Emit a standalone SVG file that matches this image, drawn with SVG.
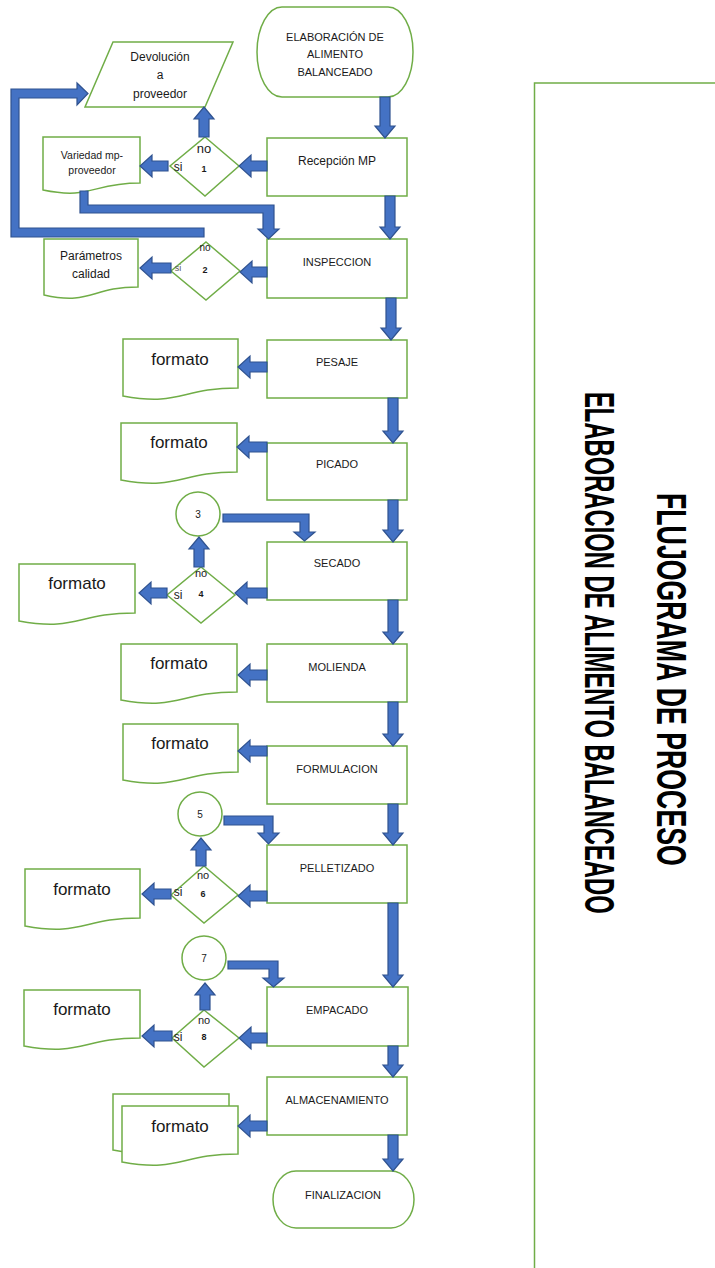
<svg xmlns="http://www.w3.org/2000/svg" width="715" height="1268" viewBox="0 0 715 1268">
<style>
.g{fill:#fff;stroke:#70AD47;stroke-width:1.5}
.ba{fill:#4472C4;stroke:#2F528F;stroke-width:1.2;stroke-linejoin:miter}
text{font-family:"Liberation Sans",Arial,sans-serif;fill:#1a1a1a;text-anchor:middle}
.t11{font-size:11px}
.t12{font-size:12px}
.f{font-size:17px}
.num{font-size:9px;font-weight:bold}
.big{font-size:43px;font-weight:bold;text-anchor:start;fill:#000}
</style>
<rect width="715" height="1268" fill="#fff"/>
<g id="frame"><path d="M534.5,1268 V83 H715" fill="none" stroke="#70AD47" stroke-width="1.5"/></g>
<g id="title1"><text class="big" transform="translate(657,493) rotate(90) scale(0.621,1)">FLUJOGRAMA DE PROCESO</text></g>
<g id="title2"><text class="big" transform="translate(585,392) rotate(90) scale(0.553,1)">ELABORACION DE ALIMENTO BALANCEADO</text></g>

<g id="start"><rect class="g" x="257" y="7" width="156" height="90" rx="25" ry="45"/>
<text class="t11" x="335" y="41">ELABORACIÓN DE</text><text class="t11" x="335" y="58">ALIMENTO</text><text class="t11" x="335" y="76">BALANCEADO</text></g>
<g id="devolucion"><polygon class="g" points="113,42 233,42 205,107 85,107"/>
<text class="t12" x="160" y="61">Devolución</text><text class="t12" x="160" y="79">a</text><text class="t12" x="160" y="98">proveedor</text></g>
<g id="recepcion"><rect class="g" x="267" y="138" width="140" height="58"/><text class="t12" x="337" y="165">Recepción MP</text></g>
<g id="d1"><polygon class="g" points="205,137 239,166 205,196 170,166"/>
<text x="204" y="153" style="font-size:13px">no</text><text class="t12" x="178" y="171">si</text><text class="num" x="204" y="172">1</text></g>
<g id="variedad"><path class="g" d="M43,137 H140 V183 C91.5,183 91.5,200 43,190 Z"/>
<text x="92" y="159" style="font-size:10.5px">Variedad mp-</text><text x="92" y="174" style="font-size:10.5px">proveedor</text></g>
<g id="inspeccion"><rect class="g" x="267" y="239" width="140" height="59"/><text class="t11" x="337" y="266">INSPECCION</text></g>
<g id="d2"><polygon class="g" points="206,242 240,271 206,300 171,271"/>
<text x="205" y="251" style="font-size:10px">no</text><text x="178" y="271" style="font-size:9px;fill:#595959">si</text><text class="num" x="205" y="273">2</text></g>
<g id="parametros"><path class="g" d="M44,239 H138 V287 C91,287 91,305.5 44,295 Z"/>
<text class="t12" x="91" y="260">Parámetros</text><text class="t12" x="91" y="278">calidad</text></g>

<g id="pesaje"><rect class="g" x="267" y="340" width="140" height="58"/><text class="t11" x="337" y="366">PESAJE</text></g>
<g id="formato1"><path class="g" d="M123,339 H238 V388 C180.5,388 180.5,406.5 123,396 Z"/><text class="f" x="180" y="365">formato</text></g>
<g id="picado"><rect class="g" x="267" y="443" width="140" height="57"/><text class="t11" x="337" y="468">PICADO</text></g>
<g id="formato2"><path class="g" d="M121,423 H237 V472 C179,472 179,490.5 121,480 Z"/><text class="f" x="179" y="448">formato</text></g>
<g id="c3"><circle class="g" cx="198" cy="514" r="22"/><text style="font-size:10px" x="198" y="518">3</text></g>
<g id="secado"><rect class="g" x="267" y="542" width="140" height="58"/><text class="t11" x="337" y="567">SECADO</text></g>
<g id="d4"><polygon class="g" points="201,567 235,595 201,623 167,595"/>
<text class="t11" x="201" y="577">no</text><text class="t12" x="178" y="599">si</text><text class="num" x="201" y="597">4</text></g>
<g id="formato3"><path class="g" d="M19,564 H135 V613 C77,613 77,631.5 19,621 Z"/><text class="f" x="77" y="589">formato</text></g>
<g id="molienda"><rect class="g" x="267" y="644" width="140" height="58"/><text class="t11" x="337" y="671">MOLIENDA</text></g>
<g id="formato4"><path class="g" d="M121,644 H237 V692 C179,692 179,710.5 121,700 Z"/><text class="f" x="179" y="669">formato</text></g>
<g id="formulacion"><rect class="g" x="267" y="746" width="140" height="58"/><text class="t11" x="337" y="773">FORMULACION</text></g>
<g id="formato5"><path class="g" d="M123,724 H238 V772 C180.5,772 180.5,790.5 123,780 Z"/><text class="f" x="180" y="749">formato</text></g>
<g id="c5"><circle class="g" cx="200" cy="814" r="22"/><text style="font-size:10px" x="200" y="818">5</text></g>
<g id="pelletizado"><rect class="g" x="267" y="845" width="140" height="58"/><text class="t11" x="337" y="872">PELLETIZADO</text></g>
<g id="d6"><polygon class="g" points="204,866 238,895 204,923 171,895"/>
<text class="t11" x="203" y="879">no</text><text class="t12" x="178" y="896">si</text><text class="num" x="203" y="897">6</text></g>
<g id="formato6"><path class="g" d="M25,869 H140 V918 C82.5,918 82.5,936.5 25,926 Z"/><text class="f" x="82" y="895">formato</text></g>
<g id="c7"><circle class="g" cx="204" cy="958" r="22"/><text style="font-size:10px" x="204" y="962">7</text></g>
<g id="empacado"><rect class="g" x="267" y="987" width="141" height="59"/><text class="t11" x="337" y="1014">EMPACADO</text></g>
<g id="d8"><polygon class="g" points="204,1010 239,1038 204,1067 172,1038"/>
<text class="t11" x="204" y="1024">no</text><text class="t12" x="178" y="1041">si</text><text class="num" x="204" y="1040">8</text></g>
<g id="formato7"><path class="g" d="M24,990 H140 V1038 C82,1038 82,1056.5 24,1046 Z"/><text class="f" x="82" y="1015">formato</text></g>
<g id="almacenamiento"><rect class="g" x="267" y="1077" width="140" height="58"/><text class="t11" x="337" y="1104">ALMACENAMIENTO</text></g>
<g id="formato8"><path class="g" d="M113,1094 H229 V1142 C171,1142 171,1160.5 113,1150 Z"/><path class="g" d="M122,1106 H238 V1154 C180,1154 180,1172.5 122,1162 Z"/><text class="f" x="180" y="1132">formato</text></g>
<g id="fin"><rect class="g" x="273" y="1171" width="141" height="57" rx="23" ry="28.5"/><text class="t11" x="343" y="1199">FINALIZACION</text></g>

<g id="connectors">
<polygon class="ba" points="380,97 390,97 390,126 395,126 385,138 375,126 380,126"/>
<polygon class="ba" points="385,196 395,196 395,227 400,227 390,239 380,227 385,227"/>
<polygon class="ba" points="386,298 396,298 396,328 401,328 391,340 381,328 386,328"/>
<polygon class="ba" points="388,398 398,398 398,431 403,431 393,443 383,431 388,431"/>
<polygon class="ba" points="388,500 398,500 398,530 403,530 393,542 383,530 388,530"/>
<polygon class="ba" points="388,600 398,600 398,632 403,632 393,644 383,632 388,632"/>
<polygon class="ba" points="388,702 398,702 398,734 403,734 393,746 383,734 388,734"/>
<polygon class="ba" points="388,804 398,804 398,833 403,833 393,845 383,833 388,833"/>
<polygon class="ba" points="388,903 398,903 398,975 403,975 393,987 383,975 388,975"/>
<polygon class="ba" points="388,1046 398,1046 398,1065 403,1065 393,1077 383,1065 388,1065"/>
<polygon class="ba" points="388,1135 398,1135 398,1159 403,1159 393,1171 383,1159 388,1159"/>

<polygon class="ba" points="267,161 251,161 251,155 239,166 251,177 251,171 267,171"/>
<polygon class="ba" points="168,161 152,161 152,155 140,166 152,177 152,171 168,171"/>
<polygon class="ba" points="267,267 252,267 252,261 240,272 252,283 252,277 267,277"/>
<polygon class="ba" points="171,263 152,263 152,257 140,268 152,279 152,273 171,273"/>
<polygon class="ba" points="267,362 250,362 250,356 238,367 250,378 250,372 267,372"/>
<polygon class="ba" points="267,442 249,442 249,436 237,447 249,458 249,452 267,452"/>
<polygon class="ba" points="267,588 247,588 247,582 235,593 247,604 247,598 267,598"/>
<polygon class="ba" points="167,588 151,588 151,582 139,593 151,604 151,598 167,598"/>
<polygon class="ba" points="267,670 250,670 250,664 238,675 250,686 250,680 267,680"/>
<polygon class="ba" points="267,746 250,746 250,740 238,751 250,762 250,756 267,756"/>
<polygon class="ba" points="267,891 250,891 250,885 238,896 250,907 250,901 267,901"/>
<polygon class="ba" points="171,889 154,889 154,883 142,894 154,905 154,899 171,899"/>
<polygon class="ba" points="267,1033 251,1033 251,1027 239,1038 251,1049 251,1043 267,1043"/>
<polygon class="ba" points="172,1031 154,1031 154,1025 142,1036 154,1047 154,1041 172,1041"/>
<polygon class="ba" points="267,1121 250,1121 250,1115 238,1126 250,1137 250,1131 267,1131"/>

<polygon class="ba" points="199,137 209,137 209,119 214,119 204,107 194,119 199,119"/>
<polygon class="ba" points="194,567 204,567 204,549 209,549 199,537 189,549 194,549"/>
<polygon class="ba" points="196,866 206,866 206,850 211,850 201,838 191,850 196,850"/>
<polygon class="ba" points="200,1010 210,1010 210,995 215,995 205,983 195,995 200,995"/>

<polygon class="ba" points="223,514 309,514 309,532 315,532 304.5,541 294,532 300,532 300,522 223,522"/>
<polygon class="ba" points="224,816 273,816 273,833 279,833 268.5,844 258,833 264,833 264,825 224,825"/>
<polygon class="ba" points="228,961 278,961 278,978 284,978 273.5,987 263,978 269,978 269,969 228,969"/>
<polygon class="ba" points="80,191 88,191 88,205 274,205 274,229 279,229 268.5,239 258,229 263,229 263,213 80,213"/>
<polygon class="ba" points="204,228 19,228 19,98 77,98 77,105 88,93.5 77,83 77,89 11,89 11,237 204,237"/>
</g>
</svg>
